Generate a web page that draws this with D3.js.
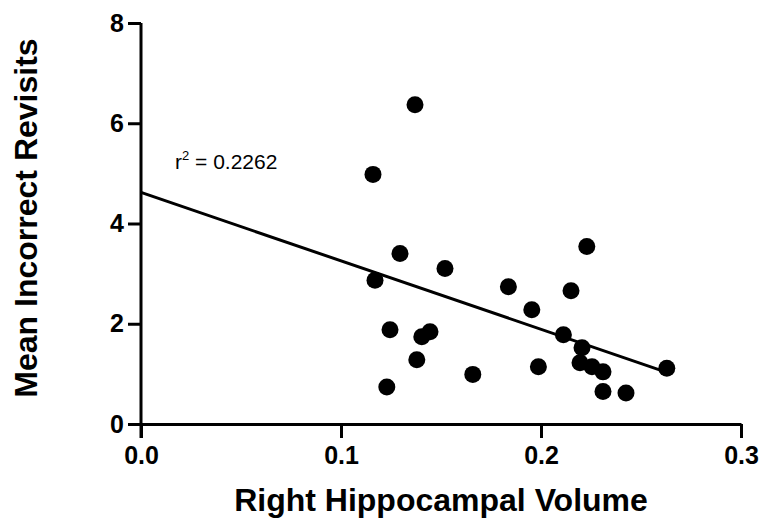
<!DOCTYPE html>
<html>
<head>
<meta charset="utf-8">
<script src="https://cdn.jsdelivr.net/npm/d3@7"></script>
<style>
  body { margin: 0; background: #fff; }
  .tick text { font-family: Arial, "Liberation Sans", sans-serif; font-weight: bold; font-size: 25px; fill: #000; }
  .axis-title { font-family: Arial, "Liberation Sans", sans-serif; font-weight: bold; font-size: 32px; fill: #000; }
  .note { font-family: Arial, "Liberation Sans", sans-serif; font-size: 21px; fill: #000; }
</style>
</head>
<body>
<div id="chart"></div>
<script>
// data
const volume = [0.116, 0.137, 0.117, 0.1295, 0.152, 0.1245, 0.1404, 0.1445,
  0.1379, 0.1229, 0.1659, 0.1837, 0.1954, 0.1987, 0.215, 0.2229, 0.2112,
  0.2205, 0.2195, 0.2255, 0.231, 0.231, 0.2425, 0.2629];
const revisits = [4.98, 6.37, 2.87, 3.40, 3.10, 1.88, 1.74, 1.84,
  1.28, 0.74, 0.99, 2.74, 2.28, 1.14, 2.66, 3.54, 1.78,
  1.52, 1.22, 1.14, 1.04, 0.65, 0.62, 1.11];
const xTicks = [0, 0.1, 0.2, 0.3];
const yTicks = [0, 2, 4, 6, 8];
const fitIntercept = 4.62, fitSlope = -13.65;
const r2Label = "0.2262";

// set the dimensions and margins of the graph
const margin = {top: 23, right: 22, bottom: 97, left: 141},
    width = 741 - margin.left,
    height = 424 - margin.top;

const svg = d3.select("#chart")
  .append("svg")
    .attr("width", 763)
    .attr("height", 521)
  .append("g")
    .attr("transform", `translate(${margin.left},${margin.top})`);

const x = d3.scaleLinear().domain([0, 0.3]).range([0, width]);
const y = d3.scaleLinear().domain([0, 8]).range([height, 0]);

// X axis
const xAxis = svg.append("g")
    .attr("transform", `translate(0, ${height})`)
    .call(d3.axisBottom(x).tickValues(xTicks).tickFormat(d3.format(".1f"))
      .tickSizeInner(14).tickSizeOuter(0).tickPadding(8));

// Y axis
const yAxis = svg.append("g")
    .call(d3.axisLeft(y).tickValues(yTicks).tickFormat(d3.format("d"))
      .tickSizeInner(13).tickSizeOuter(0).tickPadding(4));

[xAxis, yAxis].forEach(a => {
  a.selectAll("path, line").attr("stroke", "#000").attr("stroke-width", 3);
});
yAxis.select(".domain").attr("d", `M0,0V${height + 14}`);

// regression line
const xMax = d3.max(volume);
svg.append("path")
  .datum([0, xMax])
  .attr("fill", "none")
  .attr("stroke", "#000")
  .attr("stroke-width", 3)
  .attr("d", d3.line()
    .x(d => x(d))
    .y(d => y(fitIntercept + fitSlope * d)));

// points
svg.append("g")
  .selectAll("circle")
  .data(volume.map((v, i) => ({v: v, r: revisits[i]})))
  .join("circle")
    .attr("cx", d => x(d.v))
    .attr("cy", d => y(d.r))
    .attr("r", 8.5)
    .attr("fill", "#000");

// r squared note
const note = svg.append("text")
  .attr("class", "note")
  .attr("x", 34)
  .attr("y", 146);
note.append("tspan").text("r");
note.append("tspan").attr("dy", -9).attr("font-size", 13).text("2");
note.append("tspan").attr("dy", 9).text(" = " + r2Label);

// axis titles
svg.append("text")
  .attr("class", "axis-title")
  .attr("text-anchor", "middle")
  .attr("x", width / 2)
  .attr("y", height + 87)
  .text("Right Hippocampal Volume");

svg.append("text")
  .attr("class", "axis-title")
  .attr("text-anchor", "middle")
  .attr("transform", `translate(${37 - margin.left}, ${218 - margin.top}) rotate(-90)`)
  .text("Mean Incorrect Revisits");
</script>
</body>
</html>
